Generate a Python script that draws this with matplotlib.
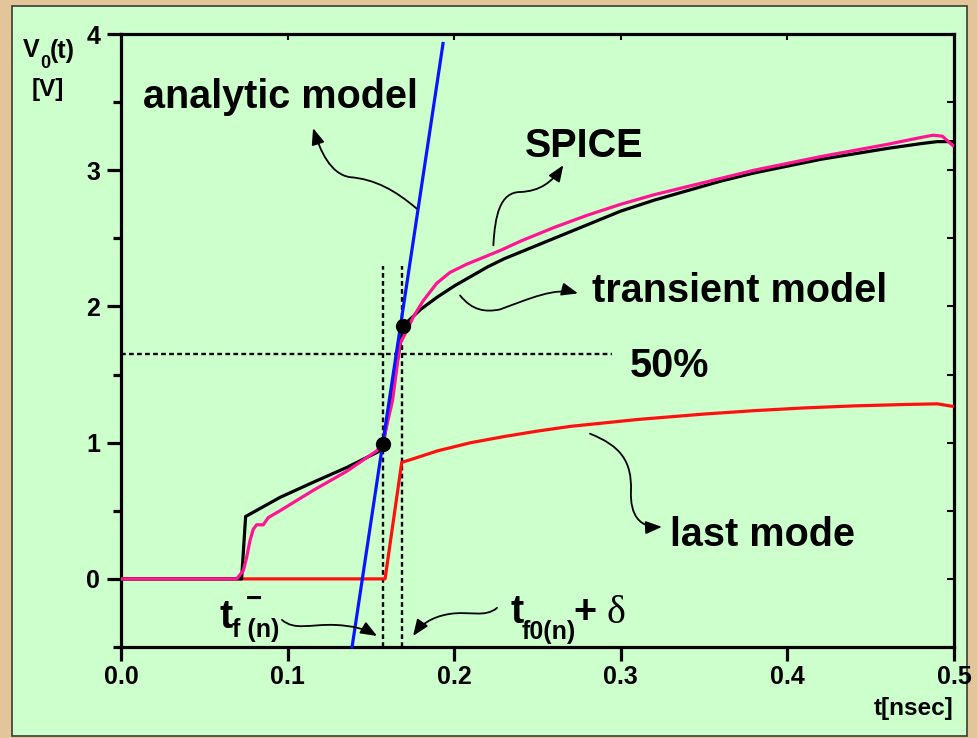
import matplotlib
matplotlib.use("Agg")
import matplotlib.pyplot as plt
from matplotlib.patches import Rectangle, FancyArrowPatch
from matplotlib.path import Path

plt.rcParams['font.family'] = ['Liberation Sans', 'DejaVu Sans']
plt.rcParams['font.weight'] = 'bold'

# output voltage curves, t in ns, V in volts
t_spice = [0, 0.0694, 0.0734, 0.0754, 0.0774, 0.0794, 0.0814, 0.0854, 0.0884,
           0.0954, 0.1154, 0.1355, 0.1535, 0.157, 0.163, 0.1675, 0.1715, 0.1753,
           0.1813, 0.1895, 0.1975, 0.2075, 0.2275, 0.24, 0.26, 0.28, 0.30,
           0.32, 0.34, 0.36, 0.38, 0.40, 0.42, 0.44, 0.46, 0.47, 0.48,
           0.4874, 0.493, 0.4994]
v_spice = [0, 0, 0.06, 0.157, 0.28, 0.365, 0.397, 0.397, 0.45,
           0.50, 0.65, 0.79, 0.94, 0.99, 1.31, 1.73, 1.82, 1.92,
           2.04, 2.17, 2.25, 2.31, 2.41, 2.48, 2.58, 2.67, 2.75,
           2.82, 2.88, 2.94, 3.00, 3.05, 3.10, 3.145, 3.19, 3.215, 3.24,
           3.257, 3.25, 3.18]

t_transient = [0, 0.0724, 0.0748, 0.0954, 0.1155, 0.1355, 0.1555, 0.1574,
               0.1695, 0.18, 0.19, 0.20, 0.21, 0.22, 0.23, 0.24, 0.25, 0.26,
               0.28, 0.30, 0.32, 0.34, 0.36, 0.38, 0.40, 0.42, 0.44, 0.46,
               0.48, 0.49, 0.5]
v_transient = [0, 0, 0.458, 0.598, 0.71, 0.818, 0.94, 0.99,
               1.86, 1.98, 2.07, 2.15, 2.22, 2.29, 2.35, 2.40, 2.45, 2.50,
               2.60, 2.70, 2.78, 2.85, 2.92, 2.98, 3.03, 3.08, 3.12, 3.16,
               3.195, 3.21, 3.21]

t_last = [0, 0.1585, 0.1685, 0.175, 0.19, 0.21, 0.23, 0.25, 0.27, 0.29,
          0.31, 0.33, 0.35, 0.38, 0.41, 0.44, 0.47, 0.49, 0.5]
v_last = [0, 0, 0.855, 0.88, 0.94, 1.0, 1.045, 1.085, 1.12, 1.145,
          1.17, 1.19, 1.21, 1.235, 1.255, 1.27, 1.28, 1.285, 1.265]

t_analytic = [0.1387, 0.1933]
v_analytic = [-0.5, 3.93]

t_points = [0.1574, 0.1695]
v_points = [0.99, 1.86]

t_fn = 0.1574          # t_f(n)^-
t_f0_delta = 0.1687    # t_f0(n) + delta
v_half = 1.65          # 50 % level
v_marker_top = 2.30

fig = plt.figure(figsize=(9.77, 7.38), dpi=100, facecolor='#E2C699')
panel = Rectangle((12 / 977, 2 / 738), 955 / 977, 730 / 738,
                  transform=fig.transFigure, facecolor='#CCFFCC',
                  edgecolor='#3a3a3a', linewidth=1.2, zorder=-10)
fig.add_artist(panel)

ax = fig.add_axes([121 / 977, 91 / 738, 833 / 977, 613 / 738])
ax.set_zorder(1)
ax.set_facecolor('none')
ax.set_xlim(0, 0.5)
ax.set_ylim(-0.5, 4)

# guide lines
dash = (2.0, 1.4)
ax.plot([t_fn, t_fn], [-0.5, v_marker_top], color='black', lw=1.7, dashes=dash, zorder=2)
ax.plot([t_f0_delta, t_f0_delta], [-0.5, v_marker_top], color='black', lw=1.7, dashes=dash, zorder=2)
ax.plot([0, 0.295], [v_half, v_half], color='black', lw=1.7, dashes=dash, zorder=2)

ax.plot(t_last, v_last, color='#FF1010', lw=2.3, zorder=3)
ax.plot(t_transient, v_transient, color='black', lw=2.3, zorder=3)
ax.plot(t_spice, v_spice, color='#FF1493', lw=2.3, zorder=4)
ax.plot(t_analytic, v_analytic, color='#0A14FF', lw=2.3, zorder=5, clip_on=False)
ax.plot(t_points, v_points, 'o', color='black', ms=10, zorder=6)

# axes frame and ticks
for s in ax.spines.values():
    s.set_linewidth(2.3)
ax.set_xticks([0, 0.1, 0.2, 0.3, 0.4, 0.5])
ax.set_xticklabels(['0.0', '0.1', '0.2', '0.3', '0.4', '0.5'])
ax.set_yticks([0, 1, 2, 3, 4])
ax.set_yticks([-0.5, 0.5, 1.5, 2.5, 3.5], minor=True)
ax.tick_params(axis='both', which='major', direction='out', width=2.3,
               labelsize=18, length=10)
ax.tick_params(axis='y', which='major', length=10, pad=5)
ax.tick_params(axis='y', which='minor', direction='out', width=2.3, length=6)
ax.tick_params(axis='x', which='major', pad=3)

top = ax.secondary_xaxis('top')
top.set_xticks([0.1, 0.2, 0.3, 0.4])
top.tick_params(direction='in', length=4, width=1.5, labeltop=False)
top.spines['top'].set_visible(False)
right = ax.secondary_yaxis('right')
right.set_yticks([0, 0.5, 1, 1.5, 2, 2.5, 3, 3.5])
right.tick_params(direction='in', length=5, width=1.5, labelright=False)
right.spines['right'].set_visible(False)

# axis titles
fig.text(23 / 977, 1 - 57 / 738, 'V', fontsize=18, fontweight='bold',
         ha='left', va='baseline')
fig.text(40 / 977, 1 - 68 / 738, '0', fontsize=13, fontweight='bold',
         ha='left', va='baseline')
fig.text(50 / 977, 1 - 58 / 738, '(t)', fontsize=18, fontweight='bold',
         ha='left', va='baseline')
fig.text(32 / 977, 1 - 96 / 738, '[V]', fontsize=17.5, fontweight='bold',
         ha='left', va='baseline')
fig.text(953 / 977, 1 - 715 / 738, 't[nsec]', fontsize=17.5, fontweight='bold',
         ha='right', va='baseline')

big = dict(fontsize=28.5, fontweight='bold', ha='left', va='baseline')
ax.text(0.0132, 3.456, 'analytic model', **big)
ax.text(0.2425, 3.10, 'SPICE', **big)
ax.text(0.2825, 2.032, 'transient model', **big)
ax.text(0.3055, 1.485, '50%', **big)
ax.text(0.3295, 0.243, 'last mode', **big)

# time markers
ax.text(0.0594, -0.36, 't', **big)
ax.text(0.0666, -0.426, 'f (n)', fontsize=18, fontweight='bold', ha='left', va='baseline')
ax.text(0.0752, -0.155, '\u2212', fontsize=20, fontweight='bold', ha='left', va='center')
ax.text(0.2335, -0.324, 't', **big)
ax.text(0.2407, -0.441, 'f0(n)', fontsize=18, fontweight='bold', ha='left', va='baseline')
ax.text(0.2713, -0.324, '+', **big)
ax.text(0.2917, -0.324, '\u03b4', fontsize=29, family='Liberation Serif',
        fontweight='normal', ha='left', va='baseline')

# curly pointer arrows
C = [Path.MOVETO, Path.CURVE4, Path.CURVE4, Path.CURVE4,
     Path.CURVE4, Path.CURVE4, Path.CURVE4]
arrows = [
    [(0.1775, 2.718), (0.1645, 2.853), (0.1525, 2.934), (0.1375, 2.949),
     (0.1255, 2.971), (0.1195, 3.147), (0.1153, 3.309)],
    [(0.2235, 2.449), (0.2245, 2.669), (0.2275, 2.838), (0.2395, 2.840),
     (0.2515, 2.846), (0.2587, 2.912), (0.2655, 3.037)],
    [(0.2035, 2.081), (0.2107, 1.971), (0.2185, 1.956), (0.2275, 1.978),
     (0.2455, 2.059), (0.2605, 2.140), (0.2743, 2.096)],
    [(0.2815, 1.066), (0.2995, 0.978), (0.3067, 0.868), (0.3061, 0.647),
     (0.3055, 0.463), (0.3115, 0.375), (0.3247, 0.382)],
    [(0.0966, -0.301), (0.1044, -0.382), (0.1134, -0.331), (0.1285, -0.338),
     (0.1405, -0.346), (0.1465, -0.368), (0.1537, -0.419)],
    [(0.2257, -0.213), (0.2185, -0.287), (0.2095, -0.235), (0.1975, -0.257),
     (0.1855, -0.279), (0.1795, -0.346), (0.1753, -0.419)],
]
for pts in arrows:
    ax.add_patch(FancyArrowPatch(path=Path(pts, C),
                                 arrowstyle='-|>,head_length=0.7,head_width=0.28',
                                 mutation_scale=14, lw=1.3, color='black',
                                 zorder=7))

fig.savefig('out.png', dpi=100, facecolor=fig.get_facecolor())
